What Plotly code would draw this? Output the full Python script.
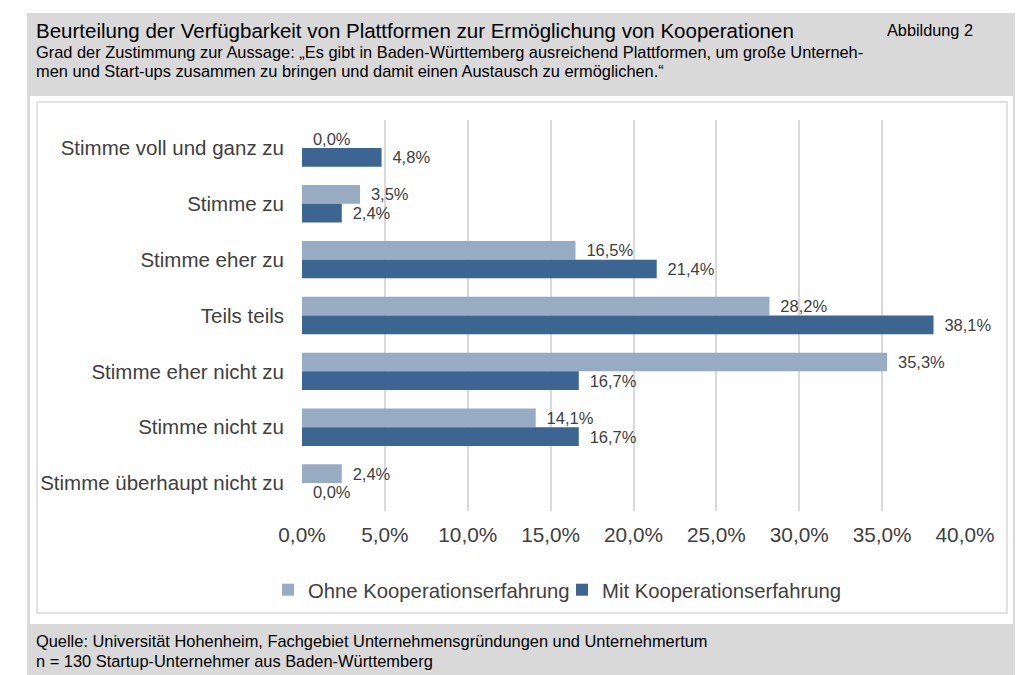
import plotly.graph_objects as go

categories = [
    "Stimme voll und ganz zu",
    "Stimme zu",
    "Stimme eher zu",
    "Teils teils",
    "Stimme eher nicht zu",
    "Stimme nicht zu",
    "Stimme überhaupt nicht zu",
]
ohne = [0.0, 3.5, 16.5, 28.2, 35.3, 14.1, 2.4]
mit = [4.8, 2.4, 21.4, 38.1, 16.7, 16.7, 0.0]
series_names = ["Ohne Kooperationserfahrung", "Mit Kooperationserfahrung"]

title = "Beurteilung der Verfügbarkeit von Plattformen zur Ermöglichung von Kooperationen"
subtitle1 = "Grad der Zustimmung zur Aussage: „Es gibt in Baden-Württemberg ausreichend Plattformen, um große Unterneh-"
subtitle2 = "men und Start-ups zusammen zu bringen und damit einen Austausch zu ermöglichen.“"
figlabel = "Abbildung 2"
source1 = "Quelle: Universität Hohenheim, Fachgebiet Unternehmensgründungen und Unternehmertum"
source2 = "n = 130 Startup-Unternehmer aus Baden-Württemberg"

# page has an 8px body margin; work in screen pixels and convert
OFF = 8
FW, FH = 1023 - OFF, 675 - OFF
L, R, T, B = 302, 965, 120, 511   # plot area in screen pixels
W, H = R - L, B - T


def px(xs):
    return (xs - L) / W


def py(ys):
    return (B - ys) / H


TXT = "#404040"
FONT = "Liberation Sans, Arial, sans-serif"
PAD = "\u00a0\u2009"

fig = go.Figure()
fig.add_trace(go.Bar(
    y=categories, x=ohne, name=series_names[0], orientation="h",
    marker=dict(color="#97abc2", line=dict(width=0)),
    texttemplate=PAD + "%{x:.1f}%", textposition="outside", cliponaxis=False,
    textfont=dict(size=16.5, color=TXT, family=FONT),
))
fig.add_trace(go.Bar(
    y=categories, x=mit, name=series_names[1], orientation="h",
    marker=dict(color="#3c6691", line=dict(width=0)),
    texttemplate=PAD + "%{x:.1f}%", textposition="outside", cliponaxis=False,
    textfont=dict(size=16.5, color=TXT, family=FONT),
))

shapes = [
    dict(type="rect", xref="paper", yref="paper", x0=px(27), x1=px(1016), y0=py(13), y1=py(690),
         fillcolor="#d9d9d9", line=dict(width=0), layer="below"),
    dict(type="rect", xref="paper", yref="paper", x0=px(30), x1=px(1013), y0=py(96), y1=py(624),
         fillcolor="#ffffff", line=dict(width=0), layer="below"),
    dict(type="rect", xref="paper", yref="paper", x0=px(37), x1=px(1007), y0=py(102), y1=py(613),
         fillcolor="rgba(0,0,0,0)", line=dict(width=1.5, color="#d9d9d9"), layer="below"),
]


def ann(text, x, y, size):
    return dict(text=text, xref="paper", yref="paper", x=px(x), y=py(y), xanchor="left",
                yanchor="middle", showarrow=False, align="left",
                font=dict(size=size, color="#000000", family=FONT))


annotations = [
    ann(title, 34, 30, 20.5),
    ann(subtitle1, 34, 52, 16.4),
    ann(subtitle2, 34, 71, 16.4),
    ann(figlabel, 885, 30, 16.3),
    ann(source1, 34, 641, 16.4),
    ann(source2, 34, 661, 16.4),
]

fig.update_layout(
    width=FW, height=FH,
    margin=dict(l=L - OFF, r=FW - (R - OFF), t=T - OFF, b=FH - (B - OFF), pad=0),
    paper_bgcolor="#ffffff", plot_bgcolor="rgba(0,0,0,0)",
    separators=",.",
    barmode="group", bargap=0.33, bargroupgap=0,
    font=dict(family=FONT, color=TXT),
    shapes=shapes, annotations=annotations,
    showlegend=True,
    legend=dict(orientation="h", x=px(562), xanchor="center", y=py(590), yanchor="middle",
                font=dict(size=20.3, color=TXT, family=FONT), bgcolor="rgba(0,0,0,0)",
                traceorder="normal", itemwidth=30, entrywidth=249, entrywidthmode="pixels"),
    xaxis=dict(range=[0, 40], dtick=5, tickformat=".1f", ticksuffix="%",
               showgrid=True, gridcolor="#d9d9d9", gridwidth=1.5, zeroline=False,
               showline=False, ticks="", tickfont=dict(size=20.8, color=TXT, family=FONT),
               ticklabelstandoff=9, fixedrange=True),
    yaxis=dict(autorange="reversed", showgrid=False, zeroline=False, showline=False, ticks="",
               tickfont=dict(size=20.5, color=TXT, family=FONT), ticklabelstandoff=17, fixedrange=True),
)

fig.write_html("out.html")
